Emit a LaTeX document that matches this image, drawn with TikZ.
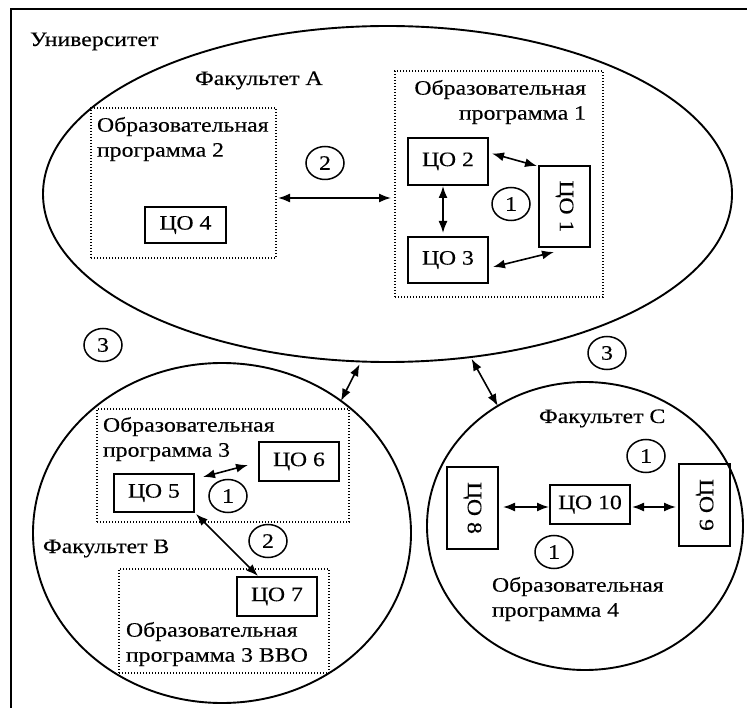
\documentclass[tikz,border=0pt]{standalone}
\usepackage{fontspec}
\setmainfont[FakeStretch=1.16,FakeBold=0.25]{Liberation Serif}
\usepackage{graphicx}
\usetikzlibrary{shapes.geometric,arrows.meta,calc}
\tikzset{
  txt/.style={font=\fontsize{20.5}{25}\selectfont, inner sep=0pt, outer sep=0pt},
  cobox/.style={draw, line width=2pt, inner sep=0pt, outer sep=0pt, font=\fontsize{20.5}{25}\selectfont},
  progbox/.style={draw, line width=1.4pt, dash pattern=on 1.4pt off 1.6pt, inner sep=0pt, outer sep=0pt},
  faculty/.style={draw, ellipse, line width=1.9pt, inner sep=0pt, outer sep=0pt},
  num/.style={draw, ellipse, line width=1.5pt, minimum width=38pt, minimum height=33pt, inner sep=0pt, font=\fontsize{20.5}{25}\selectfont},
  arr/.style={line width=1.6pt, {Latex[length=12pt,width=9pt]}-{Latex[length=12pt,width=9pt]}}
}
\begin{document}
\begin{tikzpicture}[x=1pt,y=-1pt]
\useasboundingbox (0,0) rectangle (747,708);
% frame
\coordinate (fbl) at (11,708);
\coordinate (ftl) at (11,9);
\coordinate (ftr) at (747,9);
\draw[line width=2.2pt] (fbl) -- (ftl) -- (ftr);
\node[txt, anchor=base west] (univ) at (30,46) {Университет};

% faculties
\node[faculty, minimum width=689pt, minimum height=336pt] (fA) at (387.5,194) {};
\node[faculty, minimum width=378pt, minimum height=340pt] (fB) at (222,533) {};
\node[faculty, minimum width=316pt, minimum height=288pt] (fC) at (585,526) {};

\node[txt, anchor=base west] (tA) at (195,85) {Факультет A};
\node[txt, anchor=base west] (tB) at (43,553) {Факультет B};
\node[txt, anchor=base west] (tC) at (539,423) {Факультет C};

% programme boxes
\node[progbox, minimum width=185pt, minimum height=150pt] (op2) at (183.5,183) {};
\node[progbox, minimum width=208pt, minimum height=226pt] (op1) at (499,184) {};
\node[progbox, minimum width=252pt, minimum height=113pt] (op3) at (223,465.5) {};
\node[progbox, minimum width=210pt, minimum height=104pt] (op3v) at (224,621) {};

\node[txt, anchor=north west, align=left] (t2) at (97,117) {Образовательная\\программа 2};
\node[txt, anchor=north east, align=right] (t1) at (586,80) {Образовательная\\программа 1};
\node[txt, anchor=north west, align=left] (t3) at (103,417) {Образовательная\\программа 3};
\node[txt, anchor=north west, align=left] (t3v) at (126,622) {Образовательная\\программа 3 ВВО};
\node[txt, anchor=north west, align=left] (t4) at (492,577) {Образовательная\\программа 4};

% CO boxes
\node[cobox, minimum width=81pt, minimum height=36pt] (co4) at (185.5,225) {ЦО 4};
\node[cobox, minimum width=80pt, minimum height=47pt] (co2) at (448,161.5) {ЦО 2};
\node[cobox, minimum width=51pt, minimum height=81pt] (co1) at (564.5,206.5) {\rotatebox{-90}{ЦО 1}};
\node[cobox, minimum width=80pt, minimum height=46pt] (co3) at (448,260) {ЦО 3};
\node[cobox, minimum width=80pt, minimum height=39pt] (co6) at (299,461.5) {ЦО 6};
\node[cobox, minimum width=80pt, minimum height=38pt] (co5) at (154,493) {ЦО 5};
\node[cobox, minimum width=80pt, minimum height=39pt] (co7) at (277,596.5) {ЦО 7};
\node[cobox, minimum width=51pt, minimum height=82pt] (co8) at (472.5,508) {\rotatebox{-90}{ЦО 8}};
\node[cobox, minimum width=51pt, minimum height=82pt] (co9) at (704.5,505) {\rotatebox{-90}{ЦО 9}};
\node[cobox, minimum width=80pt, minimum height=39pt] (co10) at (590,504.5) {ЦО 10};

% numbered circles
\node[num] (n2A) at (325,163) {2};
\node[num] (n1A) at (511,204) {1};
\node[num] (n3L) at (103,345) {3};
\node[num] (n3R) at (607,353) {3};
\node[num] (n1B) at (228,496) {1};
\node[num] (n2B) at (268,541) {2};
\node[num] (n1Cu) at (646,456) {1};
\node[num] (n1Cl) at (554,552) {1};

% arrows
\draw[arr] ($(op2.east)+(2,15)$) -- ($(op1.west)+(-4,14)$);
\draw[arr] ($(co2.east)+(4,-8)$) -- ($(co1.north west)+(-2,0)$);
\draw[arr] ($(co2.south)+(-5,1)$) -- ($(co3.north)+(-5,-4)$);
\draw[arr] ($(co3.east)+(5,7)$) -- ($(co1.south west)+(15,5)$);
\draw[arr, shorten <=3pt] (fA.-99) -- (fB.48);
\draw[arr, shorten <=2pt] (fA.-63) -- (fC.126);
\draw[arr] ($(co5.north east)+(9,3)$) -- ($(co6.west)+(-11,3.5)$);
\draw[arr] ($(co5.south east)+(2,2)$) -- ($(co7.north west)+(21,-1)$);
\draw[arr] ($(co8.east)+(5,-1)$) -- ($(co10.west)+(-1,2.5)$);
\draw[arr] ($(co10.east)+(2,2.5)$) -- ($(co9.west)+(-3,2)$);
\end{tikzpicture}
\end{document}
